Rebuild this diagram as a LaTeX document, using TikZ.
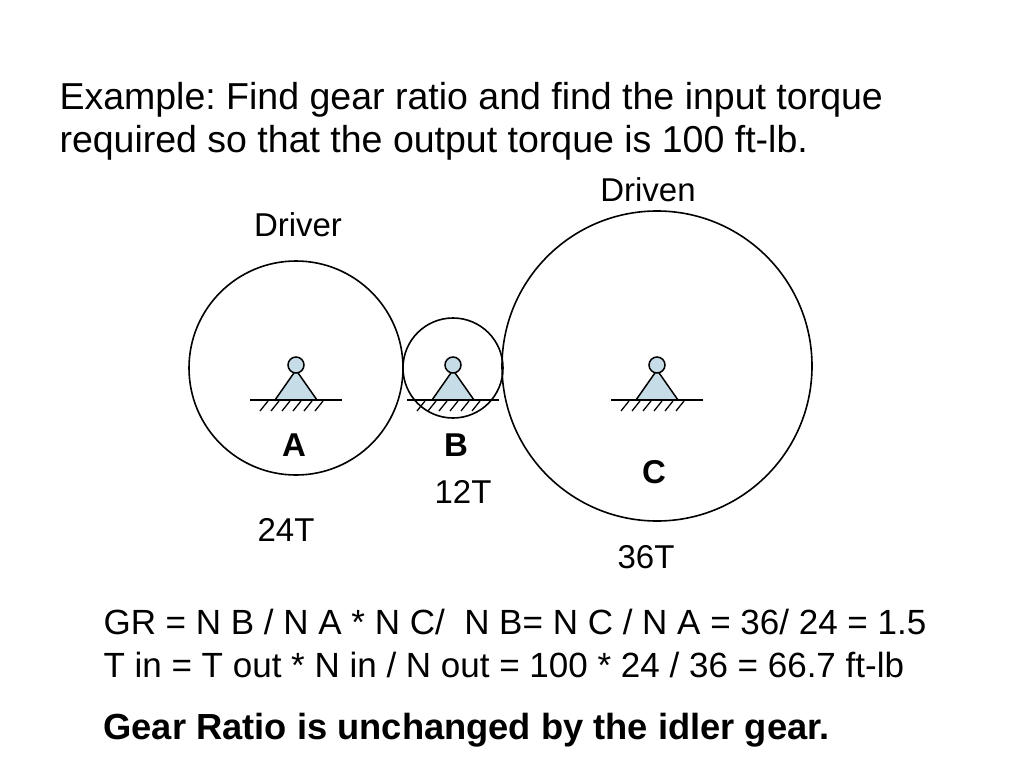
\documentclass[tikz,border=0pt]{standalone}
\usepackage{fontspec}
\setmainfont{Liberation Sans}
\frenchspacing
\begin{document}
\begin{tikzpicture}[x=1pt,y=-1pt,
    gear/.style={draw,line width=1.6pt},
    lbl/.style={font=\fontsize{33}{40}\selectfont},
    bold/.style={font=\fontsize{33}{40}\selectfont\bfseries},
    txt/.style={anchor=west,font=\fontsize{35}{42}\selectfont},
    support/.pic={
      \draw[line width=1.5pt,fill=cyan!20!teal!25] (-21,32) -- (0,2) -- (21,32) -- cycle;
      \draw[line width=1.5pt,fill=cyan!20!teal!25] (0,-3) circle (8);
      \draw[line width=1.5pt] (-46,32) -- (46,32);
      \foreach \i in {0,...,5} \draw[line width=1.3pt] (-36+\i*11,43) -- (-28+\i*11,33);
    }]
  \useasboundingbox (0,0) rectangle (1024,768);
  % gears
  \node (gA) [gear,circle,minimum size=214pt] at (296,368) {};
  \node (gB) [gear,circle,minimum size=100pt] at (453,368) {};
  \node (gC) [gear,circle,minimum size=310pt] at (657,366) {};
  \pic at (296,368) {support};
  \pic at (453,368) {support};
  \pic at (657,368) {support};
  % labels
  \node (driver) [lbl] at (298,225) {Driver};
  \node (driven) [lbl] at (648,190) {Driven};
  \node (lA) [bold] at (294,445) {A};
  \node (lB) [bold] at (456,445) {B};
  \node (lC) [bold] at (654,472) {C};
  \node (tB) [lbl] at (463,492) {12T};
  \node (tA) [lbl] at (286,530) {24T};
  \node (tC) [lbl] at (646,557) {36T};
  % text
  \node (title) [txt,font=\fontsize{37.5}{43}\selectfont,align=left,anchor=west] at (56,121)
    {Example: Find gear ratio and find the input torque\\required so that the output torque is 100 ft-lb.};
  \node (eq1) [txt] at (100,622) {GR = N B / N A * N C/\ \ N B= N C / N A = 36/ 24 = 1.5};
  \node (eq2) [txt] at (100,665) {T in = T out * N in / N out = 100 * 24 / 36 = 66.7 ft-lb};
  \node (note) [txt,font=\fontsize{36.3}{42}\selectfont\bfseries] at (100,730) {Gear Ratio is unchanged by the idler gear.};
\end{tikzpicture}
\end{document}
